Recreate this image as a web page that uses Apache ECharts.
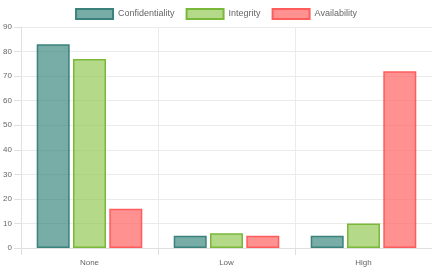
<!DOCTYPE html>
<html lang="en">
<head>
<meta charset="UTF-8">
<title>CIA impact</title>
<style>
  html, body { margin: 0; padding: 0; background: #fff; }
  #chart { width: 432px; height: 273px; }
</style>
<script src="https://cdn.jsdelivr.net/npm/echarts@6/dist/echarts.min.js"></script>
</head>
<body>
<div id="chart"></div>
<script>
var categories = ['None', 'Low', 'High'];
var confidentiality = [83, 5, 5];
var integrity = [77, 6, 10];
var availability = [16, 5, 72];
var yTicks = { min: 0, max: 90, step: 10 };

var chart = echarts.init(document.getElementById('chart'));
var font = 'Liberation Sans, Arial, sans-serif';

function bar(name, data, fill, border) {
    return {
        name: name,
        type: 'bar',
        data: data,
        barWidth: 33,
        barGap: '10%',
        itemStyle: { color: fill, borderColor: border, borderWidth: 1.5 },
        emphasis: { disabled: true }
    };
}

chart.setOption({
    animation: false,
    textStyle: { fontFamily: font },
    legend: {
        top: 3,
        left: 'center',
        icon: 'rect',
        itemWidth: 37,
        itemHeight: 10,
        itemGap: 11,
        textStyle: { fontSize: 9, color: '#666', fontFamily: font }
    },
    grid: { left: 21, right: 0, top: 27, bottom: 25, containLabel: false },
    xAxis: {
        type: 'category',
        data: categories,
        axisLine: { lineStyle: { color: '#e0e0e0' } },
        axisTick: { show: true, length: 7, lineStyle: { color: '#e0e0e0' } },
        splitLine: { show: true, lineStyle: { color: '#ebebeb' } },
        axisLabel: { fontSize: 8, color: '#666', margin: 11 }
    },
    yAxis: {
        type: 'value',
        min: yTicks.min,
        max: yTicks.max,
        interval: yTicks.step,
        axisLine: { show: true, lineStyle: { color: '#e0e0e0' } },
        axisTick: { show: true, length: 7, lineStyle: { color: '#e0e0e0' } },
        splitLine: { show: true, lineStyle: { color: '#ebebeb' } },
        axisLabel: { fontSize: 8, color: '#666', margin: 9 }
    },
    series: [
        bar('Confidentiality', confidentiality, 'rgba(47,128,120,0.65)', '#3a827b'),
        bar('Integrity', integrity, 'rgba(148,201,86,0.7)', '#7ab83a'),
        bar('Availability', availability, 'rgba(255,99,99,0.7)', '#ff5c5c')
    ]
});
</script>
</body>
</html>
